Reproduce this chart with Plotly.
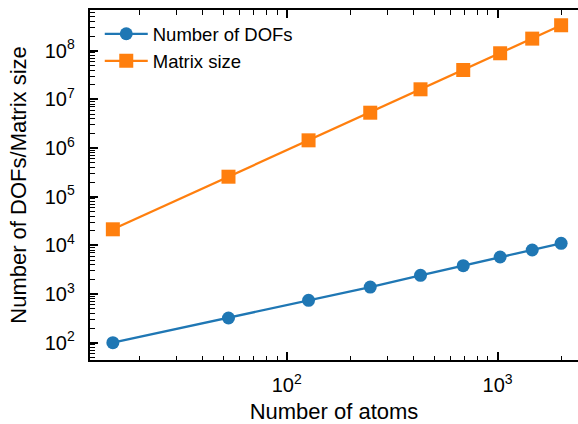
import plotly.graph_objects as go

# Problem size versus system size
atoms = [15, 53, 127, 249, 431, 687, 1028, 1459, 2000]
n_dofs = [100, 322, 743, 1393, 2425, 3819, 5767, 8030, 11020]
matrix_size = [21400, 257600, 1.44e6, 5.32e6, 1.61e7, 4.01e7, 8.85e7, 1.77e8, 3.33e8]

series_names = ["Number of DOFs", "Matrix size"]
x_title = "Number of atoms"
y_title = "Number of DOFs/Matrix size"

BLUE = "#1f77b4"
ORANGE = "#ff7f0e"
FONT = "Liberation Sans, Arial, sans-serif"

fig = go.Figure()
fig.add_trace(go.Scatter(
    x=atoms, y=n_dofs, name=series_names[0], mode="lines+markers",
    line=dict(color=BLUE, width=2.3),
    marker=dict(symbol="circle", size=13, color=BLUE),
))
fig.add_trace(go.Scatter(
    x=atoms, y=matrix_size, name=series_names[1], mode="lines+markers",
    line=dict(color=ORANGE, width=2.3),
    marker=dict(symbol="square", size=14, color=ORANGE),
))

axis_common = dict(
    type="log", dtick=1, exponentformat="power",
    showgrid=False, zeroline=False,
    showline=True, linecolor="black", linewidth=2,
    ticks="inside", ticklen=8, tickwidth=1.5, tickcolor="black",
    minor=dict(ticks="inside", ticklen=4.5, tickwidth=1, tickcolor="black",
               dtick="D1", showgrid=False),
    tickfont=dict(family=FONT, size=16, color="black"),
)

fig.update_layout(
    width=578, height=424,
    margin=dict(l=90, r=0, t=10, b=64),
    paper_bgcolor="white", plot_bgcolor="white",
    font=dict(family=FONT, color="black"),
    xaxis=dict(
        axis_common, range=[1.0678, 3.381], mirror="allticks",
        ticklabelstandoff=7,
        title=dict(text=x_title, font=dict(family=FONT, size=22), standoff=8),
    ),
    yaxis=dict(
        axis_common, range=[1.645, 8.836], mirror=False,
        ticklabelstandoff=10,
        title=dict(text=y_title, font=dict(family=FONT, size=22), standoff=12),
    ),
    yaxis2=dict(
        type="log", range=[1.645, 8.836], dtick=1, overlaying="y", anchor="x",
        side="right", showline=False, showgrid=False, zeroline=False,
        ticks="inside", ticklen=3, tickwidth=1.5, tickcolor="black",
        showticklabels=False,
    ),
    legend=dict(
        x=0.02, y=0.985, xanchor="left", yanchor="top",
        bgcolor="rgba(0,0,0,0)", borderwidth=0,
        font=dict(family=FONT, size=18.5, color="black"),
        itemwidth=43,
    ),
    showlegend=True,
)

fig.write_html("out.html")
